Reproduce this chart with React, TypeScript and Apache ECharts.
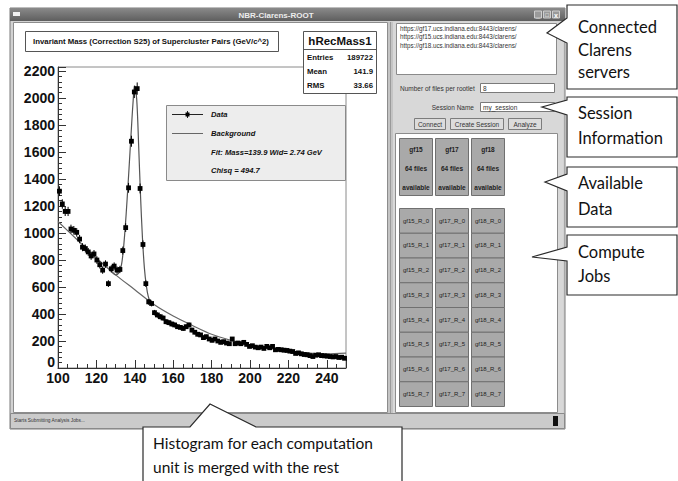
import React, { useEffect, useRef } from 'react';
import * as echarts from 'echarts';

// ---------- data ----------
const binStart = 100;
const binWidth = 1.5;
const counts = [
  1310, 1215, 1160, 1160, 1030, 1020, 1005, 955, 895, 885,
  860, 830, 845, 800, 765, 725, 770, 625, 735, 755,
  725, 730, 870, 1040, 1335, 1680, 2045, 2070, 1330, 915,
  625, 490, 478, 410, 393, 380, 370, 343, 336, 326,
  319, 306, 301, 293, 306, 319, 281, 265, 250, 245,
  225, 232, 215, 205, 215, 200, 190, 195, 185, 180,
  215, 180, 185, 180, 190, 175, 160, 165, 155, 150,
  155, 145, 160, 150, 160, 135, 138, 135, 132, 130,
  125, 122, 108, 112, 105, 100, 98, 92, 85, 95,
  98, 92, 90, 88, 85, 82, 85, 78, 80, 72,
];
const bgX = [100, 110, 120, 130, 140, 150, 160, 170, 180, 190, 200, 210, 220, 230, 240, 250];
const bgY = [1085, 950, 815, 690, 580, 470, 385, 315, 250, 205, 170, 145, 125, 112, 104, 110];
const fitX = [128, 130, 131.5, 133, 134, 135, 136, 137, 138, 139, 139.9, 141, 142, 143, 144, 145, 146, 147, 148, 150];
const fitY = [710, 690, 700, 760, 870, 1040, 1250, 1480, 1720, 1950, 2090, 1990, 1650, 1270, 960, 740, 610, 530, 495, 470];

const plotTitle = 'Invariant Mass (Correction S25) of Supercluster Pairs (GeV/c^2)';
const histName = 'hRecMass1';
const statLabels = ['Entries', 'Mean', 'RMS'];
const statValues = ['189722', '141.9', '33.66'];
const legendTexts = ['Data', 'Background', 'Fit: Mass=139.9 Wid= 2.74 GeV', 'Chisq = 494.7'];

const serverUrls = [
  'https://gf17.ucs.indiana.edu:8443/clarens/',
  'https://gf15.ucs.indiana.edu:8443/clarens/',
  'https://gf18.ucs.indiana.edu:8443/clarens/',
];
const hosts = ['gf15', 'gf17', 'gf18'];
const filesPerHost = ['64 files', '64 files', '64 files'];
const rootletIds = [0, 1, 2, 3, 4, 5, 6, 7];
const buttons = ['Connect', 'Create Session', 'Analyze'];
const statusText = 'Starts Submitting Analysis Jobs...';

const calloutTexts = [
  ['Connected', 'Clarens', 'servers'],
  ['Session', 'Information'],
  ['Available', 'Data'],
  ['Compute', 'Jobs'],
];
const bottomCallout = ['Histogram for each computation', 'unit is merged with the rest'];

// ---------- helpers ----------
const UI = 'Liberation Sans';
const CAL = 'Lato';

function txt(x: number, y: number, text: string, size: number, o: any = {}) {
  const align = o.align || 'left';
  return {
    type: 'text', x, y, z: o.z ?? 60, silent: true,
    style: {
      text, fontSize: size, fontFamily: o.family || UI,
      fontWeight: o.weight || 'normal', fontStyle: o.fstyle || 'normal',
      fill: o.color || '#111', align, textAlign: align,
      verticalAlign: 'middle', textVerticalAlign: 'middle',
    },
  };
}
function rect(x: number, y: number, w: number, h: number, fill: string, stroke?: string, z = 50, lw = 1) {
  return {
    type: 'rect', z, silent: true,
    shape: { x, y, width: w, height: h },
    style: { fill, stroke: stroke || 'none', lineWidth: lw },
  };
}
function line(x1: number, y1: number, x2: number, y2: number, stroke: string, z = 50, lw = 1) {
  return { type: 'line', z, silent: true, shape: { x1, y1, x2, y2 }, style: { stroke, lineWidth: lw } };
}

export default function App() {
  const ref = useRef<HTMLDivElement>(null);

  useEffect(() => {
    if (!ref.current) return;
    const chart = echarts.init(ref.current, undefined, { renderer: 'svg' });

    const dataPts = counts.map((c, i) => [binStart + binWidth * (i + 0.5), c]);
    const bgPts = bgX.map((x, i) => [x, bgY[i]]);
    const fitPts = fitX.map((x, i) => [x, fitY[i]]);

    const g: any[] = [];
    // window body
    g.push(rect(10, 8, 555, 421, '#d2d2d2', '#7a7a7a', -20));
    // title bar
    g.push({
      type: 'rect', z: -19, silent: true, shape: { x: 10, y: 8, width: 555, height: 13 },
      style: {
        fill: new echarts.graphic.LinearGradient(0, 0, 0, 1, [
          { offset: 0, color: '#8a8a8a' }, { offset: 1, color: '#5e5e5e' },
        ]),
      },
    });
    g.push(txt(276, 15, 'NBR-Clarens-ROOT', 8, { weight: 'bold', color: '#ececec', align: 'center', z: -18 }));
    g.push(rect(13, 12, 7, 4, '#f0f0f0', undefined, -18));
    [538, 547, 556].forEach((bx) => g.push(rect(bx - 3.5, 11, 7, 7, '#9a9a9a', '#cfcfcf', -18)));
    g.push(txt(538, 15, '_', 7, { color: '#fff', align: 'center', z: -17, weight: 'bold' }));
    g.push(txt(547, 15, '□', 6, { color: '#fff', align: 'center', z: -17 }));
    g.push(txt(556, 15, 'x', 7, { color: '#fff', align: 'center', z: -17, weight: 'bold' }));
    // left canvas
    g.push(rect(13.5, 22.5, 374, 390, '#ffffff', '#8c8c8c', -18));
    // divider
    g.push(rect(388, 22, 5, 391, '#c4c4c4', undefined, -18));
    g.push(line(390.5, 22, 390.5, 413, '#9a9a9a', -17));
    // right panel
    g.push(rect(393, 22, 170, 391, '#d8d8d8', undefined, -18));
    g.push(rect(396.5, 23.5, 160, 51, '#ffffff', '#8a8a8a', -17));
    serverUrls.forEach((u, i) => g.push(txt(400, 28 + i * 8.5, u, 6.3, { color: '#333', z: -16 })));
    g.push(txt(400, 88, 'Number of files per rootlet', 6.5, { color: '#333', z: -16 }));
    g.push(rect(480.5, 83.5, 74, 9, '#ffffff', '#7a7a7a', -17));
    g.push(txt(483, 88.5, '8', 6.5, { color: '#333', z: -16 }));
    g.push(txt(474, 107, 'Session Name', 6.5, { color: '#333', z: -16, align: 'right' }));
    g.push(rect(480.5, 102.5, 74, 9, '#ffffff', '#7a7a7a', -17));
    g.push(txt(483, 107, 'my_session', 6.5, { color: '#333', z: -16 }));
    const btnX = [414, 450, 508];
    const btnW = [31, 53, 33];
    buttons.forEach((b, i) => {
      g.push(rect(btnX[i] + 0.5, 118.5, btnW[i], 11, '#dcdcdc', '#7c7c7c', -17));
      g.push(txt(btnX[i] + btnW[i] / 2 + 0.5, 124, b, 6.5, { color: '#333', z: -16, align: 'center' }));
    });
    // jobs panel
    g.push(rect(395.5, 133.5, 162, 279, '#ffffff', '#8c8c8c', -17));
    const colX = [399, 435, 471];
    hosts.forEach((h, i) => {
      g.push(rect(colX[i] + 0.5, 138.5, 33, 57, '#a9a9a9', '#707070', -16));
      g.push(txt(colX[i] + 17, 149, h, 6.5, { weight: 'bold', color: '#222', align: 'center', z: -15 }));
      g.push(txt(colX[i] + 17, 168, filesPerHost[i], 6.5, { weight: 'bold', color: '#222', align: 'center', z: -15 }));
      g.push(txt(colX[i] + 17, 187, 'available', 6.5, { weight: 'bold', color: '#222', align: 'center', z: -15 }));
      rootletIds.forEach((r, j) => {
        const ry = 208 + j * 24.75;
        g.push(rect(colX[i] + 0.5, ry + 0.5, 33, 24.75, '#a9a9a9', '#707070', -16));
        g.push(txt(colX[i] + 17, ry + 12.5, `${h}_R_${r}`, 6, { color: '#222', align: 'center', z: -15 }));
      });
    });
    // status bar
    g.push(rect(10.5, 413.5, 554, 15, '#cbcbcb', '#8a8a8a', -17));
    g.push(txt(14, 420.5, statusText, 4.8, { color: '#333', z: -16 }));
    g.push(rect(553, 416, 5, 10, '#111', undefined, -16));

    // ROOT plot overlays
    g.push(rect(25.5, 31.5, 253, 20, '#ffffff', '#555', 80));
    g.push(txt(151, 41.5, plotTitle, 7.8, { weight: 'bold', color: '#111', align: 'center', z: 81 }));
    g.push(rect(303.5, 31.5, 73, 62, '#ffffff', '#555', 80));
    g.push(line(303.5, 49.5, 376.5, 49.5, '#555', 81));
    g.push(txt(340, 40.5, histName, 11.5, { weight: 'bold', color: '#111', align: 'center', z: 81 }));
    statLabels.forEach((l, i) => {
      g.push(txt(307, 57 + i * 14, l, 7.8, { weight: 'bold', color: '#111', z: 81 }));
      g.push(txt(373, 57 + i * 14, statValues[i], 7.8, { weight: 'bold', color: '#111', z: 81, align: 'right' }));
    });
    g.push(rect(166.5, 105.5, 179, 75, '#ededed', '#8a8a8a', 80));
    g.push(line(172, 114.5, 203, 114.5, '#222', 81));
    g.push(line(187.5, 111, 187.5, 118, '#222', 81));
    g.push(rect(185.5, 112.5, 4, 4, '#000', undefined, 82));
    g.push(line(172, 133.5, 203, 133.5, '#666', 81));
    [114.5, 133, 152.5, 170].forEach((yy, i) =>
      g.push(txt(211, yy, legendTexts[i], 7.6, { weight: 'bold', fstyle: 'italic', color: '#111', z: 81 })));

    // callouts
    const co = (pts: number[][]) => ({
      type: 'polygon', z: 90, silent: true, shape: { points: pts },
      style: { fill: '#ffffff', stroke: '#2a2a2a', lineWidth: 1.2 },
    });
    g.push(co([[567, 18], [567, 5], [677, 5], [677, 89], [567, 89], [567, 43], [547, 33]]));
    g.push(co([[567, 100], [567, 97], [677, 97], [677, 157], [567, 157], [567, 115], [542, 107]]));
    g.push(co([[567, 174], [567, 167], [677, 167], [677, 227], [567, 227], [567, 191], [545, 182]]));
    g.push(co([[567, 247], [567, 235], [677, 235], [677, 295], [567, 295], [567, 261], [532, 257]]));
    g.push(co([[190, 427], [143, 427], [143, 495], [402, 495], [402, 427], [256, 427], [210, 404]]));
    const cy = [[27, 50, 72], [113, 138], [183, 209], [252, 276]];
    calloutTexts.forEach((lines, i) =>
      lines.forEach((t, j) => g.push(txt(578, cy[i][j], t, 16.5, { family: CAL, color: '#111', z: 91 }))));
    bottomCallout.forEach((t, j) => g.push(txt(153, 443 + j * 24, t, 15.5, { family: CAL, color: '#111', z: 91 })));

    const axisLabel = {
      fontFamily: UI, fontWeight: 'bold', fontSize: 14, color: '#111',
    };

    chart.setOption({
      animation: false,
      backgroundColor: '#ffffff',
      grid: {
        left: 58, right: 332, top: 67, bottom: 113,
        show: true, borderColor: '#8a8a8a', borderWidth: 1, backgroundColor: 'transparent',
      },
      xAxis: {
        type: 'value', min: 100, max: 250, interval: 20,
        axisLine: { show: true, lineStyle: { color: '#333' } },
        axisTick: { show: true, inside: true, length: 8, lineStyle: { color: '#333' } },
        minorTick: { show: true, splitNumber: 4, length: 4, lineStyle: { color: '#333' } },
        splitLine: { show: false },
        axisLabel: {
          ...axisLabel, margin: 3,
          formatter: (v: number) => (v % 20 === 0 ? String(v) : ''),
        },
      },
      yAxis: {
        type: 'value', min: 0, max: 2230, interval: 200,
        axisLine: { show: true, lineStyle: { color: '#333' } },
        axisTick: { show: true, inside: true, length: 8, lineStyle: { color: '#333' } },
        minorTick: { show: true, splitNumber: 5, length: 4, lineStyle: { color: '#333' } },
        splitLine: { show: false },
        axisLabel: {
          ...axisLabel, margin: 3,
          formatter: (v: number) => (v === 0 ? '{z|0}' : v % 200 === 0 ? String(v) : ''),
          rich: {
            z: { ...axisLabel, padding: [0, 0, 12, 0] },
          },
        },
      },
      series: [
        {
          type: 'line', data: bgPts, smooth: 0.3, symbol: 'none', z: 3,
          lineStyle: { color: '#666', width: 1.2 },
        },
        {
          type: 'line', data: fitPts, smooth: 0.3, symbol: 'none', z: 3,
          lineStyle: { color: '#555', width: 1.2 },
        },
        {
          type: 'custom', data: dataPts, z: 4,
          renderItem: (_p: any, api: any) => {
            const x = api.value(0);
            const y = api.value(1);
            const c = api.coord([x, y]);
            const e = Math.sqrt(y);
            const t = api.coord([x, y + e]);
            const b = api.coord([x, y - e]);
            return {
              type: 'group',
              children: [
                { type: 'line', shape: { x1: c[0], y1: t[1], x2: c[0], y2: b[1] }, style: { stroke: '#000', lineWidth: 1 } },
                { type: 'rect', shape: { x: c[0] - 2.4, y: c[1] - 2.4, width: 4.8, height: 4.8 }, style: { fill: '#000' } },
              ],
            };
          },
        },
      ],
      graphic: { elements: g },
    });

    return () => chart.dispose();
  }, []);

  return <div ref={ref} style={{ position: 'absolute', left: 0, top: 0, width: 678, height: 481 }} />;
}
